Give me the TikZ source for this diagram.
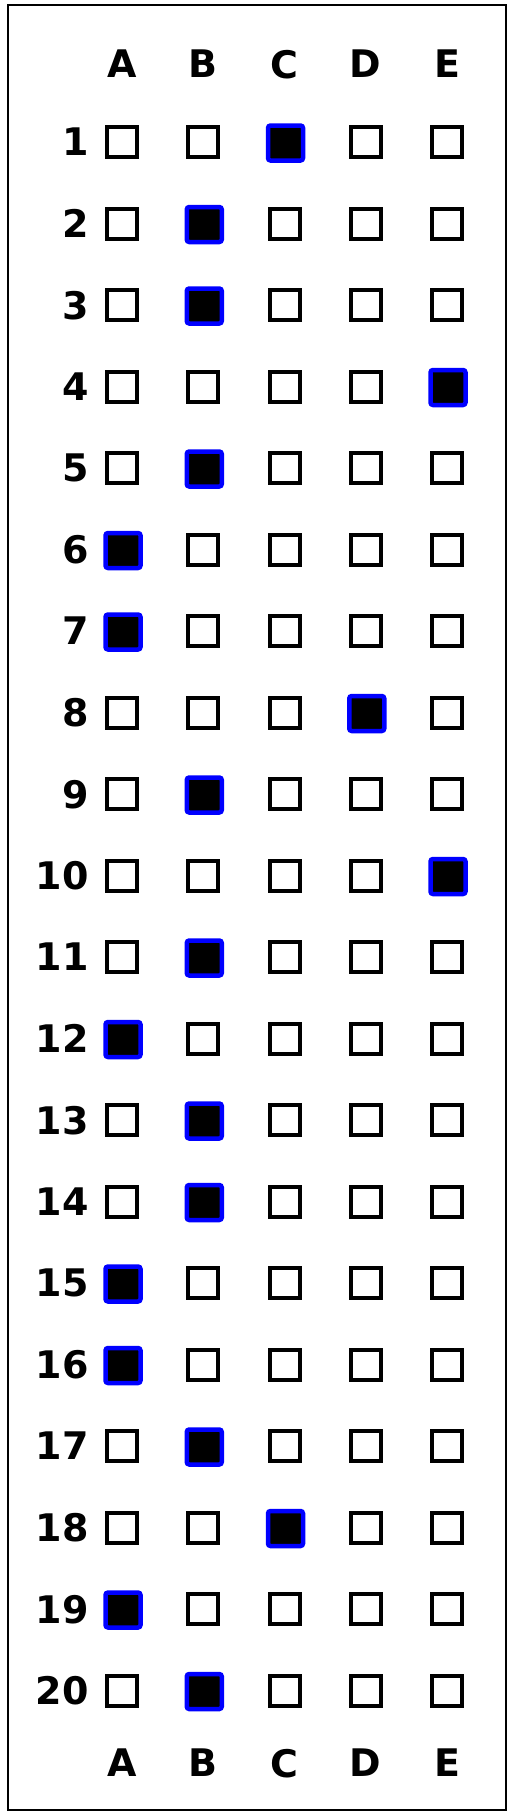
\documentclass[tikz,border=0pt]{standalone}
\usepackage{fontspec}
\setmainfont{DejaVu Sans}
\begin{document}
\begin{tikzpicture}[x=1pt,y=-1pt,
  lbl/.style={font=\bfseries\fontsize{38}{38}\selectfont, inner sep=0pt, text depth=0pt},
  optbox/.style={draw=black, line width=4pt, minimum size=30pt, inner sep=0pt},
  filledbox/.style={optbox, fill=black},
  mark/.style={},
  hilite/.style={draw=blue, line width=4.5pt, rounded corners=2.5pt, minimum size=35pt, inner sep=0pt}]
\useasboundingbox (0,0) rectangle (512,1816);
\draw[line width=1.2pt] (8,5) rectangle (506,1810);
\def\cols{{"A","B","C","D","E"}}
\foreach \L [count=\i from 0] in {A,B,C,D,E} {
  \node[lbl] (top\L) at (122+81.25*\i, 64) {\L};
  \node[lbl] (bot\L) at (122+81.25*\i, 1763) {\L};
}
\foreach \r/\ans in {1/2,2/1,3/1,4/4,5/1,6/0,7/0,8/3,9/1,10/4,11/1,12/0,13/1,14/1,15/0,16/0,17/1,18/2,19/0,20/1} {
  \pgfmathsetmacro{\yy}{142+81.5*(\r-1)}
  \node[lbl, anchor=east] (n\r) at (89,\yy) {\r};
  \foreach \c in {0,...,4} {
    \ifnum\c=\ans
      \node[filledbox] (b\r-\c) at (122+81.25*\c,\yy) {};
      \node[hilite] (h\r) at (123+81.25*\c,\yy+1) {};
    \else
      \node[optbox] (b\r-\c) at (122+81.25*\c,\yy) {};
    \fi
  }
}
\end{tikzpicture}
\end{document}
